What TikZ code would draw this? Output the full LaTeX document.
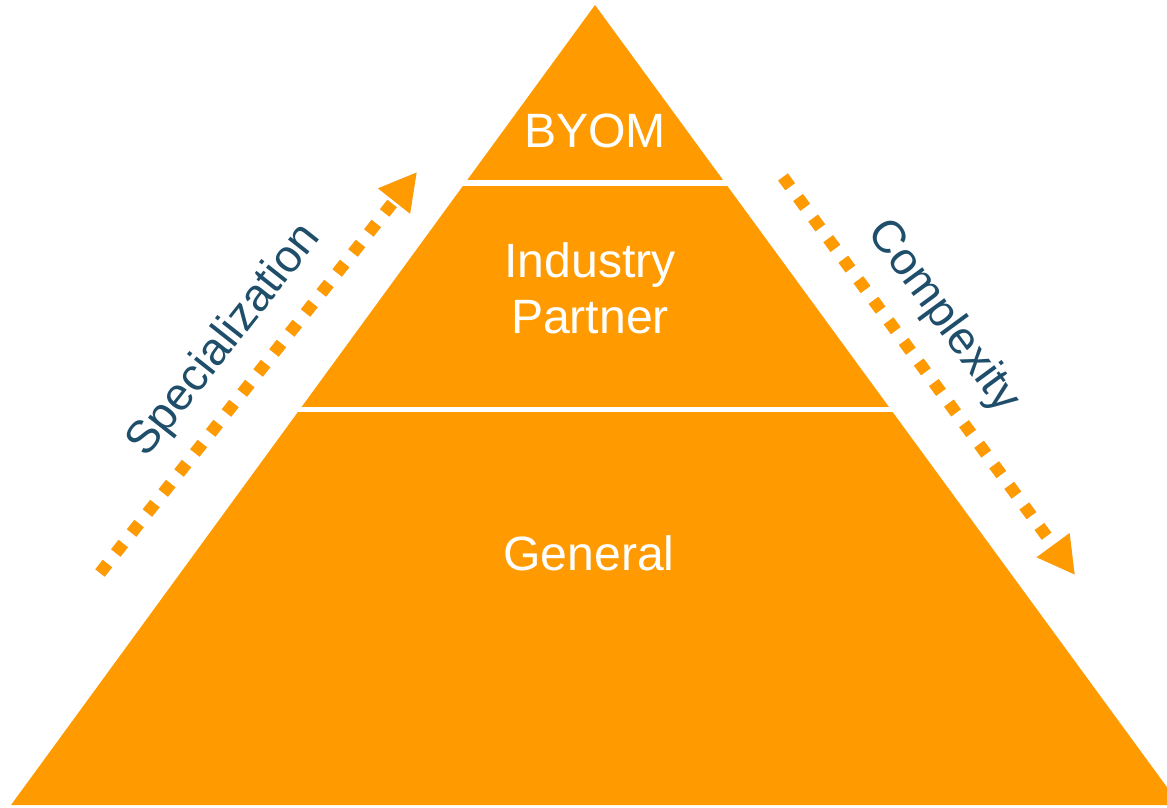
\documentclass[tikz,border=0pt]{standalone}
\usepackage{fontspec}
\setmainfont{Liberation Sans}
\usetikzlibrary{arrows.meta}

\definecolor{pyrorange}{RGB}{255,155,0}
\definecolor{labelblue}{RGB}{31,78,107}

\tikzset{
  tier/.style={text=white, font=\fontsize{13.7}{16}\selectfont, inner sep=0pt},
  trend/.style={text=labelblue, font=\fontsize{13}{15}\selectfont, inner sep=0pt},
  dotarrow/.style={pyrorange, line width=1.2mm, dash pattern=on 1.2mm off 1.35mm,
    -{Triangle[length=3.7mm,width=3.8mm]}},
  dotshadow/.style={dotarrow, black, opacity=0.18, shift={(0.02,-0.025)}}
}

\begin{document}
\begin{tikzpicture}
\useasboundingbox (0,0) rectangle (11.67,8.07);
\clip (0,0) rectangle (11.67,8.07);

% pyramid
\coordinate (apex) at (5.95,8.02);
\coordinate (baseL) at (0.11,0.02);
\coordinate (baseR) at (11.80,0.02);
\fill[pyrorange] (baseL) -- (apex) -- (baseR) -- cycle;
\draw[white, line width=0.6mm] (0,6.24) -- (11.67,6.24);
\draw[white, line width=0.5mm] (0,3.975) -- (11.67,3.975);

\node[tier] (byom) at (5.95,6.765) {BYOM};
\node[tier, align=center] (industry) at (5.90,5.19) {Industry\\Partner};
\node[tier] (general) at (5.89,2.54) {General};

% arrows
\coordinate (specTail) at (1.00,2.34);
\coordinate (specTip) at (4.17,6.35);
\draw[dotshadow] (specTail) -- (specTip);
\draw[dotarrow] (specTail) -- (specTip);
\node[trend, rotate=51.7] (spec) at (2.25,4.66) {Specialization};

\coordinate (compTail) at (7.83,6.30);
\coordinate (compTip) at (10.75,2.32);
\draw[dotshadow] (compTail) -- (compTip);
\draw[dotarrow] (compTail) -- (compTip);
\node[trend, rotate=-53.7] (comp) at (9.43,4.905) {Complexity};
\end{tikzpicture}
\end{document}
